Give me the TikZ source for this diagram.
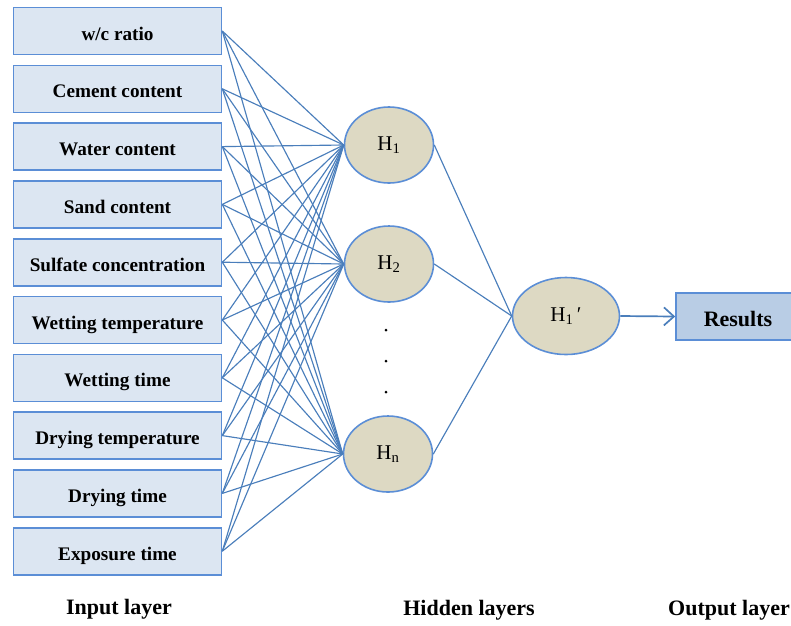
\documentclass[tikz,border=0pt]{standalone}
\usepackage{fontspec}
\setmainfont{Liberation Serif}
\usetikzlibrary{shapes.geometric,arrows.meta}
\definecolor{boxfill}{HTML}{DCE6F2}
\definecolor{boxline}{HTML}{5B8ED6}
\definecolor{linkc}{HTML}{4A7EBB}
\definecolor{ellfill}{HTML}{DDD9C3}
\definecolor{resfill}{HTML}{B9CDE5}
\tikzset{
  inbox/.style={draw=boxline, fill=boxfill, line width=1.6pt, minimum width=208pt, minimum height=47pt, inner sep=0pt, font=\fontsize{19.2}{22}\selectfont\bfseries},
  neuron/.style={ellipse, draw=boxline, fill=ellfill, line width=1.6pt, minimum width=89pt, minimum height=76pt, inner sep=0pt, font=\fontsize{21}{24}\selectfont},
  link/.style={draw=linkc, line width=1.15pt},
  layerlabel/.style={font=\fontsize{22}{26}\selectfont\bfseries},
}
\begin{document}
\begin{tikzpicture}[x=1pt,y=-1pt]
\useasboundingbox (0,0) rectangle (791,625);
\foreach \i/\t in {1/{w/c ratio},2/Cement content,3/Water content,4/Sand content,5/Sulfate concentration,6/Wetting temperature,7/Wetting time,8/Drying temperature,9/Drying time,10/Exposure time}{
  \node[inbox] (in\i) at (117.5,{31+57.8*(\i-1)}) {\raisebox{-9pt}[0pt][0pt]{\t}};
}
\node[neuron] (h1) at (389,145) {H\textsubscript{1}};
\node[neuron] (h2) at (389,264) {H\textsubscript{2}};
\node[neuron] (hn) at (388,454) {H\textsubscript{n}};
\node[neuron, minimum width=107pt, minimum height=77pt] (ho) at (566,316) {H\textsubscript{1}\,′};
\node[draw=boxline, fill=resfill, line width=1.6pt, minimum width=124pt, minimum height=47pt, inner sep=0pt, font=\fontsize{22}{26}\selectfont\bfseries] (res) at (738,316.5) {\raisebox{-10pt}[0pt][0pt]{Results}};
\foreach \i in {1,...,10}{
  \foreach \h in {h1,h2,hn}{
    \draw[link] (in\i.east) -- (\h.west);
  }
}
\foreach \h in {h1,h2,hn}{
  \draw[link] (\h.east) -- (ho.west);
}
\draw[link, line width=1.7pt, -{Straight Barb[length=10pt,width=18pt,line width=1.7pt]}] (ho.east) -- (res.west);
\node[circle, fill=black, inner sep=0pt, minimum size=3pt] (d1) at (386,330) {};
\node[circle, fill=black, inner sep=0pt, minimum size=3pt] (d2) at (386,361) {};
\node[circle, fill=black, inner sep=0pt, minimum size=3pt] (d3) at (386,392) {};
\node[layerlabel] (l1) at (119,609) {Input layer};
\node[layerlabel] (l2) at (469,610) {Hidden layers};
\node[layerlabel] (l3) at (729,610) {Output layer};
\end{tikzpicture}
\end{document}
